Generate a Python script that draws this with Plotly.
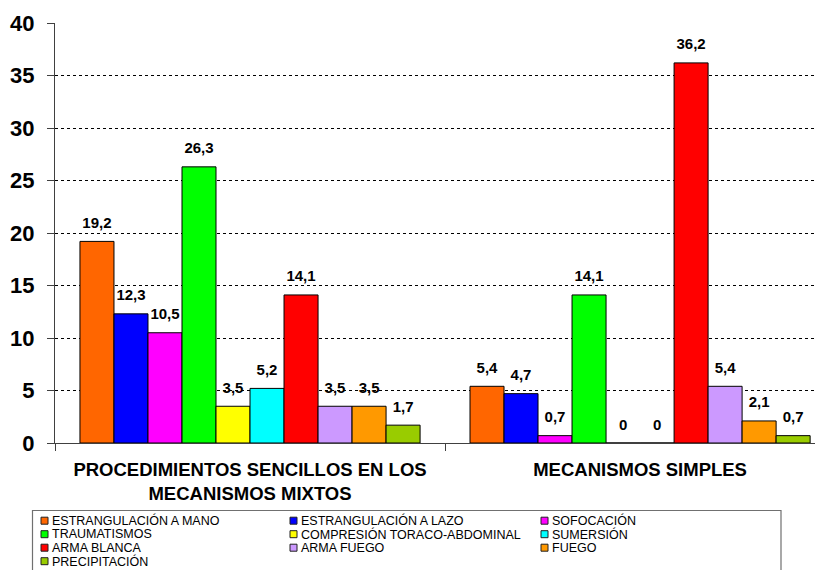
import plotly.graph_objects as go

categories = ["PROCEDIMIENTOS SENCILLOS EN LOS<br>MECANISMOS MIXTOS", "MECANISMOS SIMPLES"]
series_names = ["ESTRANGULACIÓN A MANO", "ESTRANGULACIÓN A LAZO", "SOFOCACIÓN",
                "TRAUMATISMOS", "COMPRESIÓN TORACO-ABDOMINAL", "SUMERSIÓN",
                "ARMA BLANCA", "ARMA FUEGO", "FUEGO", "PRECIPITACIÓN"]
mixtos = [19.2, 12.3, 10.5, 26.3, 3.5, 5.2, 14.1, 3.5, 3.5, 1.7]
simples = [5.4, 4.7, 0.7, 14.1, 0, 0, 36.2, 5.4, 2.1, 0.7]
colors = ["#FF6600", "#0000FF", "#FF00FF", "#00FF00", "#FFFF00", "#00FFFF",
          "#FF0000", "#CC99FF", "#FF9900", "#99CC00"]
y_ticks = [0, 5, 10, 15, 20, 25, 30, 35, 40]

# the page adds an 8px body margin; the figure is sized to fill the rest
OFF = 8
W, H = 823 - OFF, 570 - OFF
ML, MR, MT = 55 - OFF, 0, 23 - OFF
MB = H - (443 - OFF)
PW, PH = W - ML - MR, H - MT - MB
GAP = 0.128


def px_x(p):  # page pixel -> paper fraction
    return (p - OFF - ML) / PW


def px_y(p):
    return (H - MB - (p - OFF)) / PH


def fmt(v):
    return ("%g" % v).replace(".", ",")


fig = go.Figure()
for i, name in enumerate(series_names):
    vals = [mixtos[i], simples[i]]
    fig.add_trace(go.Bar(
        x=categories, y=vals, name=name, showlegend=False,
        marker=dict(color=colors[i], line=dict(color="#000000", width=1)),
        hoverinfo="skip",
    ))
for i, name in enumerate(series_names):
    vals = [mixtos[i], simples[i]]
    fig.add_trace(go.Scatter(
        x=categories, y=vals, name=name, showlegend=False,
        mode="markers+text", text=[fmt(v) for v in vals], textposition="top center",
        marker=dict(size=14, color="rgba(0,0,0,0)"), cliponaxis=False,
        textfont=dict(family="Arial", size=15, color="#000000", weight="bold"),
    ))

# custom legend (3 columns, row-major)
shapes = [dict(type="rect", xref="paper", yref="paper",
               x0=px_x(32.5), x1=px_x(781), y0=px_y(510.5), y1=px_y(585),
               line=dict(color="#707070", width=1.2), fillcolor="white", layer="below")]
annotations = []
col_x = [41, 290, 541]
row_y0, row_dy = 520.7, 13.5
for i, name in enumerate(series_names):
    r, c = divmod(i, 3)
    cx = col_x[c]
    cy = row_y0 + r * row_dy
    shapes.append(dict(type="rect", xref="paper", yref="paper",
                       x0=px_x(cx), x1=px_x(cx + 7), y0=px_y(cy - 3.5), y1=px_y(cy + 3.5),
                       line=dict(color="#202020", width=1), fillcolor=colors[i]))
    annotations.append(dict(xref="paper", yref="paper", x=px_x(cx + 9), y=px_y(cy),
                            xanchor="left", yanchor="middle", showarrow=False, text=name,
                            font=dict(family="Arial", size=12.5, color="#000000")))

fig.update_layout(
    width=W, height=H,
    margin=dict(l=ML, r=MR, t=MT, b=MB, pad=0, autoexpand=False),
    paper_bgcolor="white", plot_bgcolor="white",
    barmode="group", bargap=GAP, bargroupgap=0,
    scattermode="group", scattergap=GAP,
    font=dict(family="Arial", color="#000000"),
    showlegend=False,
    shapes=shapes, annotations=annotations,
    xaxis=dict(
        type="category", range=[-0.5, 1.469], tickson="boundaries",
        ticks="outside", ticklen=7, tickcolor="#404040",
        showline=True, linecolor="#404040", linewidth=1,
        tickfont=dict(family="Arial", size=18.5, color="#000000", weight="bold"),
        ticklabelstandoff=10,
        showgrid=False,
    ),
    yaxis=dict(
        range=[0, 40], tickvals=y_ticks, ticktext=[str(t) for t in y_ticks],
        ticks="outside", ticklen=7, tickcolor="#404040",
        showline=True, linecolor="#404040", linewidth=1,
        showgrid=True, gridcolor="#000000", gridwidth=1, griddash="dot",
        zeroline=False, ticklabelstandoff=8,
        tickfont=dict(family="Arial", size=22, color="#000000", weight="bold"),
    ),
)

fig.write_html("out.html")
